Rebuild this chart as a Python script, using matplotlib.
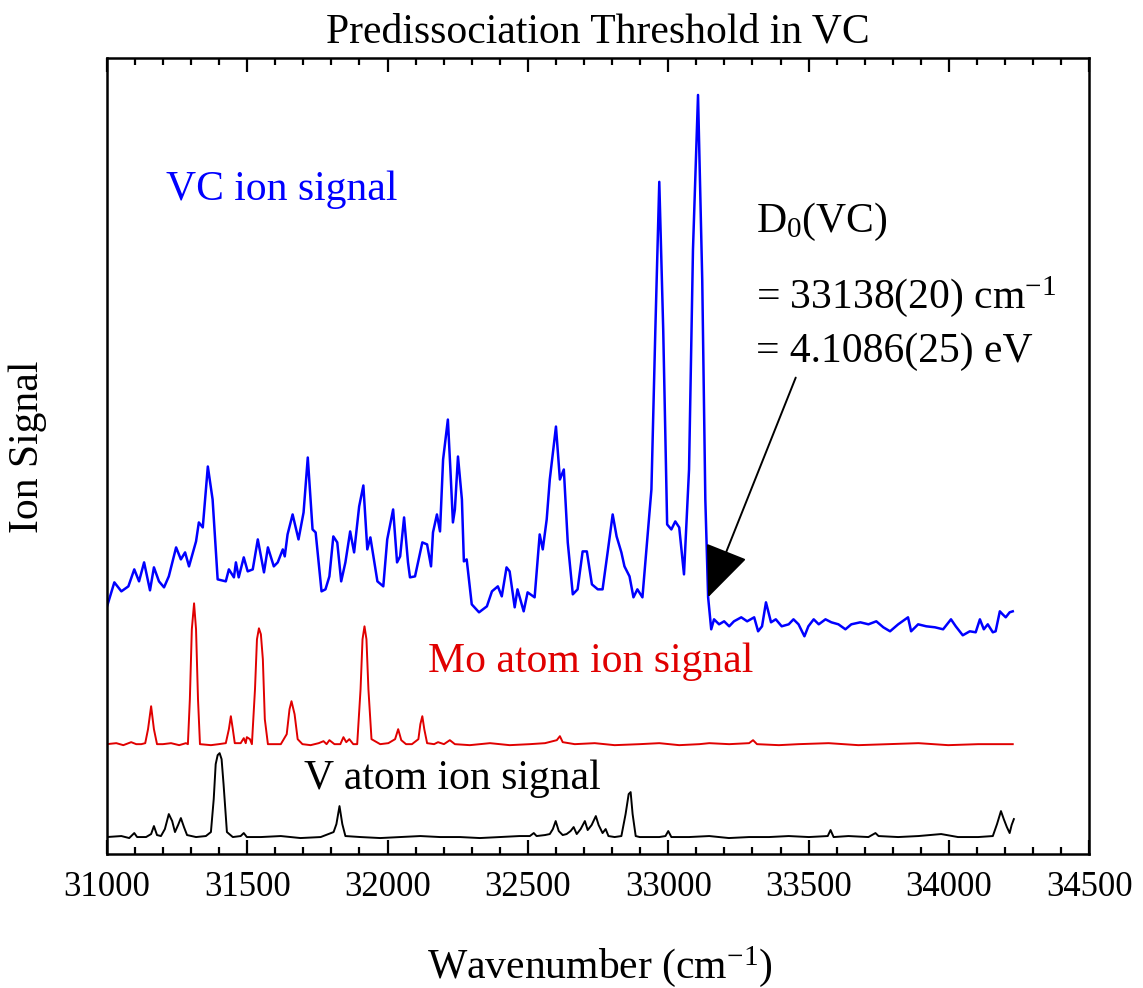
import matplotlib
matplotlib.use("Agg")
import matplotlib.pyplot as plt
from matplotlib.ticker import MultipleLocator

plt.rcParams["font.family"] = "serif"
plt.rcParams["font.serif"] = ["Liberation Serif", "DejaVu Serif"]
plt.rcParams["mathtext.fontset"] = "custom"
plt.rcParams["mathtext.rm"] = "Liberation Serif"
plt.rcParams["mathtext.it"] = "Liberation Serif:italic"

# VC ion signal (blue), arbitrary units
vc_wn = [31000, 31027, 31052, 31077, 31098, 31115, 31133, 31154, 31168, 31186,
         31204, 31221, 31247, 31264, 31279, 31293, 31318, 31328, 31342, 31360,
         31377, 31395, 31424, 31435, 31453, 31460, 31470, 31488, 31502, 31520,
         31538, 31560, 31574, 31595, 31609, 31627, 31634, 31644, 31662, 31683,
         31701, 31716, 31733, 31744, 31765, 31779, 31793, 31807, 31821, 31835,
         31850, 31867, 31881, 31899, 31914, 31928, 31939, 31964, 31985, 31999,
         32020, 32034, 32045, 32059, 32073, 32080, 32098, 32124, 32141, 32155,
         32162, 32176, 32187, 32198, 32215, 32224, 32233, 32240, 32251, 32265,
         32272, 32282, 32300, 32326, 32354, 32372, 32393, 32407, 32424, 32435,
         32453, 32463, 32485, 32499, 32524, 32542, 32553, 32567, 32578, 32600,
         32614, 32628, 32642, 32660, 32677, 32695, 32710, 32728, 32749, 32766,
         32784, 32802, 32816, 32833, 32844, 32862, 32876, 32890, 32908, 32923,
         32940, 32954, 32968, 32982, 32996, 33011, 33025, 33039, 33056, 33074,
         33088, 33106, 33121, 33132, 33142, 33153, 33163, 33181, 33199, 33217,
         33234, 33260, 33281, 33306, 33320, 33334, 33348, 33366, 33383, 33404,
         33429, 33446, 33464, 33485, 33499, 33518, 33536, 33560, 33581, 33606,
         33631, 33652, 33684, 33713, 33741, 33766, 33790, 33819, 33854, 33865,
         33890, 33919, 33950, 33979, 34007, 34024, 34049, 34074, 34095, 34110,
         34124, 34138, 34156, 34166, 34181, 34191, 34202, 34216, 34227]
vc_sig = [247, 272, 263, 268, 285, 273, 292, 264, 287, 273,
          267, 278, 307, 295, 302, 288, 313, 332, 327, 388,
          355, 275, 273, 285, 277, 292, 277, 297, 283, 285,
          315, 282, 307, 288, 292, 305, 298, 320, 340, 315,
          342, 397, 325, 322, 263, 265, 278, 318, 312, 273,
          292, 323, 302, 348, 369, 305, 317, 273, 268, 315,
          345, 292, 298, 337, 292, 277, 278, 312, 310, 288,
          322, 340, 323, 395, 435, 385, 332, 345, 398, 355,
          293, 295, 250, 242, 248, 263, 268, 258, 287, 283,
          247, 265, 243, 262, 257, 320, 305, 335, 375, 428,
          375, 385, 312, 260, 265, 303, 303, 270, 265, 265,
          302, 340, 318, 302, 288, 278, 257, 265, 257, 308,
          365, 525, 673, 525, 330, 325, 333, 327, 280, 385,
          605, 760, 575, 355, 257, 225, 235, 230, 233, 228,
          233, 237, 233, 237, 223, 228, 252, 232, 235, 228,
          230, 235, 230, 218, 228, 235, 230, 235, 232, 230,
          225, 230, 232, 230, 233, 227, 223, 230, 237, 223,
          230, 228, 227, 225, 235, 228, 219, 223, 222, 235,
          225, 230, 222, 223, 243, 240, 237, 242, 243]

# Mo atom ion signal (red)
mo_wn = [31000, 31034, 31059, 31087, 31105, 31123, 31137, 31147, 31158, 31168,
         31179, 31200, 31229, 31258, 31282, 31289, 31296, 31303, 31311, 31318,
         31325, 31332, 31371, 31399, 31424, 31435, 31442, 31449, 31456, 31477,
         31488, 31495, 31499, 31510, 31517, 31528, 31535, 31542, 31549, 31556,
         31563, 31574, 31591, 31620, 31641, 31651, 31658, 31669, 31680, 31697,
         31726, 31755, 31772, 31783, 31793, 31811, 31832, 31843, 31853, 31864,
         31878, 31892, 31904, 31911, 31918, 31925, 31932, 31943, 31974, 32003,
         32027, 32038, 32049, 32066, 32087, 32110, 32117, 32124, 32131, 32141,
         32166, 32180, 32201, 32222, 32240, 32293, 32365, 32435, 32507, 32561,
         32603, 32614, 32624, 32667, 32738, 32809, 32898, 32968, 33039, 33111,
         33146, 33217, 33288, 33302, 33316, 33394, 33464, 33571, 33677, 33784,
         33891, 33997, 34104, 34174, 34227]
mo_sig = [110, 111, 109, 112, 110, 110, 111, 125, 148, 125,
          110, 110, 111, 109, 111, 110, 155, 225, 251, 225,
          155, 110, 109, 110, 111, 125, 138, 125, 111, 111,
          116, 111, 117, 115, 110, 165, 215, 226, 220, 195,
          135, 110, 110, 110, 120, 145, 153, 140, 115, 110,
          109, 111, 113, 110, 114, 110, 110, 117, 112, 115,
          110, 110, 165, 215, 228, 215, 165, 115, 110, 111,
          115, 125, 114, 110, 110, 115, 130, 138, 125, 111,
          110, 112, 110, 114, 110, 109, 111, 109, 110, 111,
          114, 118, 112, 110, 111, 109, 110, 111, 109, 110,
          111, 110, 111, 114, 110, 109, 110, 111, 109, 110,
          111, 109, 110, 110, 110]

# V atom ion signal (black)
v_wn = [31000, 31052, 31080, 31098, 31108, 31140, 31158, 31168, 31179, 31193,
        31207, 31221, 31233, 31243, 31254, 31264, 31275, 31286, 31318, 31353,
        31371, 31381, 31388, 31395, 31402, 31409, 31416, 31428, 31449, 31477,
        31488, 31499, 31549, 31620, 31690, 31762, 31808, 31818, 31829, 31839,
        31850, 31904, 31974, 32045, 32117, 32187, 32258, 32329, 32400, 32470,
        32507, 32521, 32531, 32561, 32578, 32589, 32599, 32610, 32624, 32638,
        32652, 32663, 32674, 32688, 32703, 32713, 32727, 32742, 32752, 32766,
        32777, 32787, 32809, 32833, 32848, 32859, 32866, 32873, 32884, 32898,
        32968, 32990, 33000, 33011, 33074, 33146, 33216, 33288, 33359, 33429,
        33501, 33568, 33578, 33589, 33642, 33713, 33738, 33749, 33819, 33891,
        33972, 34032, 34104, 34156, 34171, 34185, 34195, 34206, 34216, 34223,
        34231]
v_sig = [17, 18, 16, 21, 17, 17, 20, 28, 19, 18,
         25, 40, 33, 22, 29, 36, 27, 19, 17, 18,
         22, 55, 90, 99, 101, 95, 70, 22, 17, 18,
         21, 17, 17, 18, 16, 17, 22, 30, 48, 30,
         18, 17, 16, 17, 18, 17, 17, 16, 17, 18,
         18, 21, 18, 19, 20, 25, 33, 23, 19, 20,
         23, 27, 20, 25, 33, 24, 29, 38, 29, 21,
         25, 18, 17, 18, 40, 60, 62, 40, 18, 17,
         17, 18, 23, 17, 17, 18, 16, 17, 17, 18,
         17, 18, 24, 17, 18, 17, 21, 18, 17, 18,
         20, 17, 17, 18, 30, 43, 35, 27, 21, 29,
         35]

D0_WN = 33138
xticks = list(range(31000, 34501, 500))

fig = plt.figure(figsize=(11.43, 9.88), dpi=100)
ax = fig.add_axes([0.0934, 0.1356, 0.8597, 0.8057])

ax.plot(vc_wn, vc_sig, color="#0000ff", lw=1.8)
ax.plot(mo_wn, mo_sig, color="#e00000", lw=1.4)
ax.plot(v_wn, v_sig, color="black", lw=1.4)

ax.set_xlim(31000, 34500)
ax.set_ylim(0, 797)
ax.set_xticks(xticks)
ax.xaxis.set_minor_locator(MultipleLocator(100))
ax.set_yticks([])
ax.tick_params(axis="x", which="both", direction="in", top=True, bottom=True,
               pad=12, labelsize=25)
ax.tick_params(axis="x", which="major", length=10, width=1.6)
ax.tick_params(axis="x", which="minor", length=5, width=1.6)
for sp in ax.spines.values():
    sp.set_linewidth(1.8)

ax.set_title("Predissociation Threshold in VC", fontsize=30, pad=11)
fig.text(600 / 1143, 1 - 978 / 988, "Wavenumber (cm$^{-1}$)", fontsize=30,
         ha="center", va="baseline")
fig.text(28 / 1143, 1 - 447 / 988, "Ion Signal", fontsize=30, rotation=90,
         ha="center", va="center")

ax.text(31211, 665, "VC ion signal", color="#0000ff", fontsize=30, va="center")
ax.text(32144, 193, "Mo atom ion signal", color="#e00000", fontsize=30, va="center")
ax.text(31701, 75, "V atom ion signal", color="black", fontsize=30, va="center")

ax.text(33312, 633, "D$_0$(VC)", fontsize=30, va="center")
ax.text(33312, 558, "= %d(20) cm$^{-1}$" % D0_WN, fontsize=30, va="center")
ax.text(33312, 503, "= 4.1086(25) eV", fontsize=30, va="center")

ax.annotate("", xy=(33142, 257), xytext=(33454, 477),
            arrowprops=dict(arrowstyle="-|>,head_length=3.3,head_width=1.4",
                            color="black", lw=1.4, shrinkA=0, shrinkB=0,
                            mutation_scale=10))

fig.savefig("out.png", dpi=100)
